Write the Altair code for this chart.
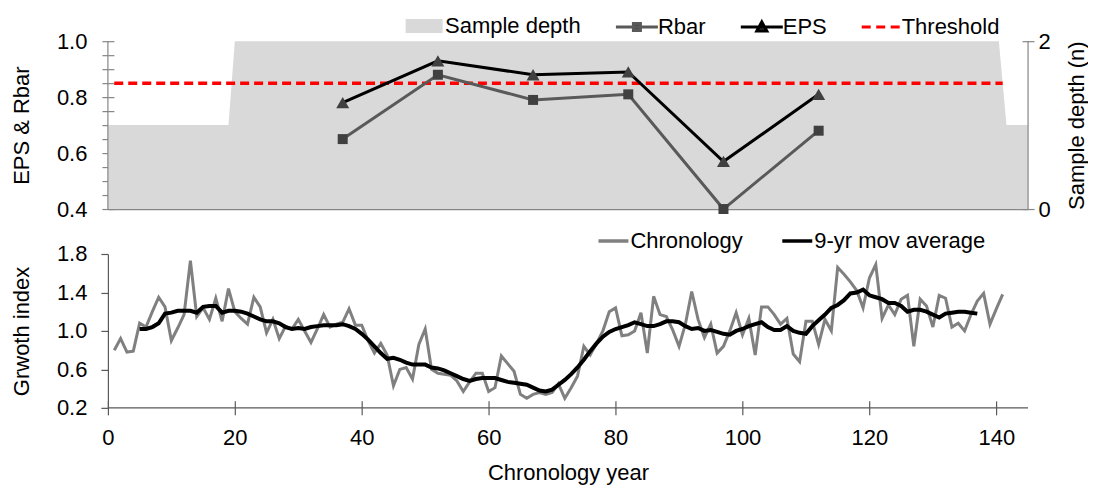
import altair as alt
import pandas as pd

FONT = "Liberation Sans"

# ---------------- top panel data ----------------
depth_year = [0, 19, 20, 140.4, 141.6, 145]
depth_n = [1, 1, 2, 2, 1, 1]

stat_year = [37, 52, 67, 82, 97, 112]
rbar = [0.65, 0.88, 0.79, 0.81, 0.40, 0.68]
eps = [0.78, 0.93, 0.88, 0.89, 0.57, 0.81]

threshold_year = [1, 141]
threshold = [0.85, 0.85]

top_series = ["Sample depth", "Rbar", "EPS", "Threshold"]
top_ticks = [0.4, 0.45, 0.5, 0.55, 0.6, 0.65, 0.7, 0.75, 0.8, 0.85, 0.9, 0.95, 1.0]
depth_ticks = [0, 1, 2]

# ---------------- bottom panel data ----------------
chron_year = list(range(1, 142))
chron = [0.80, 0.92, 0.78, 0.79, 1.08, 1.04, 1.20, 1.35, 1.25, 0.90,
         1.03, 1.17, 1.73, 1.15, 1.24, 1.12, 1.34, 1.10, 1.44, 1.20,
         1.13, 1.07, 1.35, 1.25, 0.98, 1.12, 0.92, 1.05, 1.02, 1.12,
         1.00, 0.88, 1.02, 1.17, 1.04, 1.07, 1.09, 1.23, 1.06, 1.06,
         0.90, 0.77, 0.87, 0.75, 0.43, 0.60, 0.62, 0.50, 0.86, 1.02,
         0.60, 0.56, 0.55, 0.54, 0.48, 0.37, 0.47, 0.56, 0.56, 0.37,
         0.41, 0.74, 0.66, 0.58, 0.34, 0.30, 0.34, 0.36, 0.34, 0.36,
         0.45, 0.30, 0.41, 0.53, 0.84, 0.75, 0.87, 1.00, 1.20, 1.24,
         0.95, 0.96, 1.00, 1.19, 0.77, 1.36, 1.17, 1.15, 1.01, 0.84,
         1.07, 1.41, 1.12, 0.93, 1.07, 0.77, 0.84, 1.00, 1.19, 0.96,
         1.13, 0.75, 1.25, 1.25, 1.17, 1.07, 1.13, 0.76, 0.68, 1.10,
         1.10, 0.86, 1.12, 1.00, 1.66, 1.59, 1.51, 1.42, 1.24, 1.55,
         1.69, 1.13, 1.27, 1.17, 1.33, 1.37, 0.84, 1.33, 1.26, 1.04,
         1.37, 1.34, 1.04, 1.08, 1.00, 1.17, 1.31, 1.39, 1.07, 1.23,
         1.38]

ma_year = list(range(5, 138))
ma = [1.02, 1.02, 1.04, 1.08, 1.18, 1.19, 1.21, 1.21, 1.21, 1.19,
      1.25, 1.26, 1.26, 1.19, 1.21, 1.21, 1.20, 1.18, 1.15, 1.12,
      1.10, 1.10, 1.08, 1.04, 1.02, 1.03, 1.02, 1.04, 1.05, 1.06,
      1.06, 1.06, 1.07, 1.05, 1.02, 0.97, 0.91, 0.84, 0.77, 0.71,
      0.72, 0.70, 0.67, 0.65, 0.65, 0.65, 0.62, 0.61, 0.59, 0.56,
      0.53, 0.50, 0.48, 0.50, 0.51, 0.51, 0.51, 0.49, 0.47, 0.46,
      0.45, 0.44, 0.41, 0.38, 0.37, 0.39, 0.44, 0.49, 0.55, 0.62,
      0.70, 0.79, 0.87, 0.94, 0.99, 1.02, 1.04, 1.06, 1.09, 1.07,
      1.05, 1.05, 1.07, 1.10, 1.10, 1.09, 1.05, 1.02, 1.03, 1.00,
      1.01, 0.99, 0.97, 0.96, 1.00, 1.02, 1.05, 1.07, 1.09, 1.04,
      1.01, 1.01, 1.05, 1.00, 0.98, 0.97, 1.05, 1.11, 1.17, 1.24,
      1.27, 1.32, 1.39, 1.40, 1.43, 1.37, 1.35, 1.33, 1.29, 1.29,
      1.26, 1.20, 1.22, 1.22, 1.20, 1.17, 1.14, 1.18, 1.19, 1.20,
      1.20, 1.19, 1.18]

bottom_series = ["Chronology", "9-yr mov average"]
x_ticks = [0, 20, 40, 60, 80, 100, 120, 140]
growth_ticks = [0.2, 0.6, 1.0, 1.4, 1.8]

X_DOMAIN = [0, 145]
TOP_Y_DOMAIN = [0.4, 1.0]
BOT_Y_DOMAIN = [0.2, 1.8]

# ---------------- frames ----------------
depth_df = pd.DataFrame({"year": depth_year, "n": depth_n})
rbar_df = pd.DataFrame({"year": stat_year, "v": rbar})
eps_df = pd.DataFrame({"year": stat_year, "v": eps})
thr_df = pd.DataFrame({"year": threshold_year, "v": threshold})
leg_top_df = pd.DataFrame({"series": top_series, "year": [-50] * 4, "v": [0.5] * 4})
edge_df = pd.DataFrame({"year": X_DOMAIN})

chron_df = pd.DataFrame({"year": chron_year, "v": chron})
ma_df = pd.DataFrame({"year": ma_year, "v": ma})
leg_bot_df = pd.DataFrame({"series2": bottom_series, "year": [-50] * 2, "v": [1.0] * 2})
base_df = pd.DataFrame({"v": [BOT_Y_DOMAIN[0]]})

W = 921
TOP_H = 168
BOT_H = 154
TOP_AX = "#868686"
BOT_AX = "#595959"
FS = 22

TXT = dict(labelFont=FONT, labelFontSize=FS, titleFont=FONT, titleFontSize=FS,
           titleFontWeight="normal", labelColor="#000000", titleColor="#000000",
           labelOverlap=False, labelFlush=False, grid=False)

x_top = alt.X("year:Q", scale=alt.Scale(domain=X_DOMAIN, nice=False, zero=False),
              axis=alt.Axis(title=None, labels=False, ticks=False, grid=False,
                            domainColor=TOP_AX, domainWidth=1.2))

y_left = alt.Y("v:Q", scale=alt.Scale(domain=TOP_Y_DOMAIN, nice=False, zero=False),
               axis=alt.Axis(orient="left", title="EPS & Rbar", values=top_ticks,
                             labelExpr="abs(datum.value*5 - round(datum.value*5)) < 0.01 ? format(datum.value, '.1f') : ''",
                             offset=-6, tickSize=12, labelPadding=15, titlePadding=23,
                             domain=False, tickColor=TOP_AX, tickWidth=1.2, **TXT))

area = alt.Chart(depth_df).mark_area(color="#d9d9d9", opacity=1, interpolate="linear").encode(
    x=x_top,
    y=alt.Y("n:Q", scale=alt.Scale(domain=[0, 2], nice=False),
            axis=alt.Axis(orient="right", title="Sample depth  (n)", values=depth_ticks, format="d",
                          titleAngle=270, titleBaseline="top", offset=-6, tickSize=12,
                          labelPadding=4, titlePadding=16, domain=False,
                          tickColor=TOP_AX, tickWidth=1.2, **TXT)),
)

edges = alt.Chart(edge_df).mark_rule(color=TOP_AX, strokeWidth=1.2).encode(x=x_top)
thr_line = alt.Chart(thr_df).mark_line(color="#ff0000", strokeWidth=3.5, strokeDash=[9, 5]).encode(
    x=x_top, y=y_left)
rbar_line = alt.Chart(rbar_df).mark_line(color="#595959", strokeWidth=3).encode(x=x_top, y=y_left)
rbar_pts = alt.Chart(rbar_df).mark_point(shape="square", filled=True, color="#404040", size=100, opacity=1).encode(
    x=x_top, y=y_left)
eps_line = alt.Chart(eps_df).mark_line(color="#000000", strokeWidth=3).encode(x=x_top, y=y_left)
eps_pts = alt.Chart(eps_df).mark_point(shape="triangle-up", filled=True, color="#404040", size=170, opacity=1).encode(
    x=x_top, y=y_left)

top_paths = [
    "M-1.85,-0.7H1.85V0.7H-1.85Z",
    "M-2.1,0H2.1M-0.35,-0.35H0.35V0.35H-0.35Z",
    "M-2.1,0H2.1M0,-0.5L0.5,0.4H-0.5Z",
    "M-1.9,0H-1.0M-0.45,0H0.45M1.0,0H1.9",
]

def top_legend():
    return alt.Legend(orient="none", legendX=305, legendY=-27, direction="horizontal", title=None,
                      labelFont=FONT, labelFontSize=FS, labelColor="#000000", labelLimit=400,
                      symbolSize=400, symbolStrokeWidth=3, symbolOpacity=1, labelOffset=9.5,
                      columnPadding=28, padding=0)

leg_top = alt.Chart(leg_top_df).mark_point(filled=True, opacity=1, clip=True, strokeWidth=3, size=400).encode(
    x=x_top, y=y_left,
    fill=alt.Fill("series:N", sort=top_series,
                  scale=alt.Scale(domain=top_series, range=["#d9d9d9", "#404040", "#404040", "#ff0000"]),
                  legend=top_legend()),
    stroke=alt.Stroke("series:N", sort=top_series,
                      scale=alt.Scale(domain=top_series, range=["transparent", "#595959", "#000000", "#ff0000"]),
                      legend=top_legend()),
    shape=alt.Shape("series:N", sort=top_series,
                    scale=alt.Scale(domain=top_series, range=top_paths),
                    legend=top_legend()),
)

left_layers = alt.layer(edges, thr_line, rbar_line, eps_line, rbar_pts, eps_pts, leg_top)
top = alt.layer(area, left_layers).resolve_scale(y="independent").properties(width=W, height=TOP_H)

# ---------------- bottom panel ----------------
x_bot = alt.X("year:Q", scale=alt.Scale(domain=X_DOMAIN, nice=False, zero=False),
              axis=alt.Axis(title="Chronology year", values=x_ticks, format="d",
                            offset=-7, tickSize=14, labelPadding=13, titlePadding=14,
                            domain=False, tickColor=BOT_AX, tickWidth=1.2, **TXT))
y_bot = alt.Y("v:Q", scale=alt.Scale(domain=BOT_Y_DOMAIN, nice=False, zero=False),
              axis=alt.Axis(title="Grwoth index", values=growth_ticks, format=".1f", tickSize=7,
                            labelPadding=14, titlePadding=23,
                            domainColor=BOT_AX, tickColor=BOT_AX, domainWidth=1.2, tickWidth=1.2, **TXT))

base_line = alt.Chart(base_df).mark_rule(color=BOT_AX, strokeWidth=1.2).encode(y=y_bot)
chron_line = alt.Chart(chron_df).mark_line(color="#808080", strokeWidth=3).encode(x=x_bot, y=y_bot)
ma_line = alt.Chart(ma_df).mark_line(color="#000000", strokeWidth=4).encode(x=x_bot, y=y_bot)
leg_bot = alt.Chart(leg_bot_df).mark_point(filled=False, opacity=1, clip=True, strokeWidth=3.5,
                                           shape="M-1.5,0H1.5", size=400).encode(
    x=x_bot, y=y_bot,
    stroke=alt.Stroke("series2:N", sort=bottom_series,
                      scale=alt.Scale(domain=bottom_series, range=["#808080", "#000000"]),
                      legend=alt.Legend(orient="none", legendX=494, legendY=-25, direction="horizontal",
                                        title=None, labelFont=FONT, labelFontSize=FS, labelColor="#000000",
                                        labelLimit=400, symbolSize=400, symbolStrokeWidth=3.5,
                                        symbolType="M-1.5,0H1.5", symbolOpacity=1, labelOffset=5,
                                        columnPadding=32, padding=0)),
)

bottom = alt.layer(base_line, chron_line, ma_line, leg_bot).properties(width=W, height=BOT_H)

chart = alt.vconcat(top, bottom, spacing=9).resolve_scale(
    y="independent", fill="independent", stroke="independent", shape="independent"
).resolve_legend(stroke="independent").properties(
    padding={"left": 2, "top": 6, "right": 0, "bottom": 2}, background="#ffffff"
).configure_view(stroke=None)

chart.save("out.html", embed_options={"renderer": "svg", "actions": False})
